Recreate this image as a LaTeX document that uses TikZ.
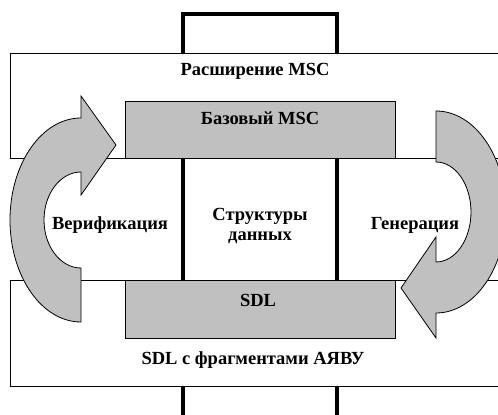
\documentclass[tikz,border=0pt]{standalone}
\usepackage{fontspec}
\setmainfont{Liberation Serif}
\definecolor{graybg}{HTML}{C0C0C0}
\begin{document}
\begin{tikzpicture}[x=1pt,y=1pt,
  boxline/.style={draw=black, line width=0.9pt, inner sep=0pt, outer sep=0pt, anchor=south west},
  outerbox/.style={boxline, fill=white},
  graybox/.style={boxline, fill=graybg},
  thickline/.style={line width=3.3pt, draw=black},
  arrowshape/.style={draw=black, line width=0.8pt, fill=graybg},
  lbl/.style={font=\fontsize{18.5}{19.5}\selectfont\bfseries, align=center, inner sep=0pt}]
\useasboundingbox (0,0) rectangle (498,415);
\clip (0,0) rectangle (498,415);
% central thick frame
\coordinate (fbl) at (183,-10);
\coordinate (ftl) at (183,401);
\coordinate (ftr) at (337,401);
\coordinate (fbr) at (337,-10);
\draw[thickline] (fbl) -- (ftl) -- (ftr) -- (fbr);
% boxes
\node[outerbox, minimum width=510pt, minimum height=105pt] (ext) at (10,257) {};
\node[outerbox, minimum width=510pt, minimum height=106pt] (sdlx) at (10,29) {};
\node[graybox, minimum width=270pt, minimum height=57pt] (base) at (125,257) {};
\node[graybox, minimum width=270pt, minimum height=58pt] (sdl) at (125,77) {};
% left arrow (Верификация)
\draw[arrowshape] (81,93) arc[start angle=270, end angle=90, x radius=71pt, y radius=102pt]
  -- (81,319) -- (116,270) -- (81,220) -- (81,243)
  arc[start angle=90, end angle=270, x radius=37pt, y radius=48pt] -- cycle;
% right arrow (Генерация)
\draw[arrowshape] (436,304) arc[start angle=90, end angle=-90, x radius=70pt, y radius=101pt]
  -- (436,77) -- (401,127) -- (436,178) -- (436,153)
  arc[start angle=-90, end angle=90, x radius=35pt, y radius=50pt] -- cycle;
% labels
\node[lbl] (tExt) at (255,344) {Расширение MSC};
\node[lbl] (tBase) at (260,297) {Базовый MSC};
\node[lbl] (tVer) at (110,190) {Верификация};
\node[lbl] (tStr) at (260,189) {Структуры\\данных};
\node[lbl] (tGen) at (415,190) {Генерация};
\node[lbl] (tSdl) at (258,115) {SDL};
\node[lbl] (tSdlx) at (253,55) {SDL с фрагментами АЯВУ};
\end{tikzpicture}
\end{document}
